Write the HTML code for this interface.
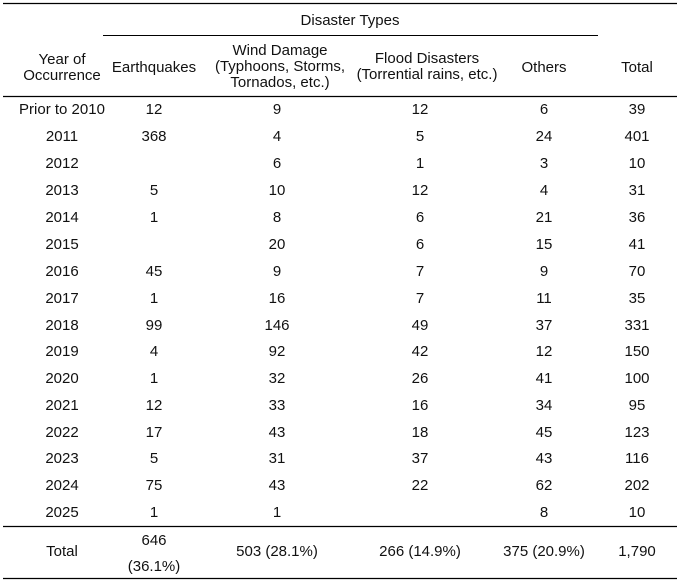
<!DOCTYPE html>
<html><head><meta charset="utf-8"><style>
html,body{margin:0;padding:0;background:#fff;}
svg text{font-family:"Liberation Sans","Noto Sans CJK JP",sans-serif;font-size:15px;fill:#111;text-anchor:middle;}
</style></head><body>
<svg width="680" height="583" xmlns="http://www.w3.org/2000/svg">
<line x1="3" y1="3.5" x2="677" y2="3.5" stroke="#000" stroke-width="1.2"/>
<line x1="103" y1="35.5" x2="598" y2="35.5" stroke="#000" stroke-width="1"/>
<line x1="3" y1="96.5" x2="677" y2="96.5" stroke="#000" stroke-width="1.2"/>
<line x1="3" y1="526.5" x2="677" y2="526.5" stroke="#000" stroke-width="1.2"/>
<line x1="3" y1="578.5" x2="677" y2="578.5" stroke="#000" stroke-width="1.2"/>
<text x="350" y="25">Disaster Types</text>
<text x="62" y="64">Year of</text><text x="62" y="80">Occurrence</text>
<text x="154" y="72">Earthquakes</text>
<text x="280" y="55">Wind Damage</text><text x="280" y="71">(Typhoons, Storms,</text><text x="280" y="87">Tornados, etc.)</text>
<text x="427" y="63">Flood Disasters</text><text x="427" y="79">(Torrential rains, etc.)</text>
<text x="544" y="72">Others</text>
<text x="637" y="72">Total</text>
<g id="rows"></g>
<text x="62" y="556">Total</text>
<text x="154" y="545">646</text><text x="154" y="571">(36.1%)</text>
<text x="277" y="556">503 (28.1%)</text>
<text x="420" y="556">266 (14.9%)</text>
<text x="544" y="556">375 (20.9%)</text>
<text x="637" y="556">1,790</text>
<text x="62" y="114">Prior to 2010</text><text x="154" y="114">12</text><text x="277" y="114">9</text><text x="420" y="114">12</text><text x="544" y="114">6</text><text x="637" y="114">39</text>
<text x="62" y="141">2011</text><text x="154" y="141">368</text><text x="277" y="141">4</text><text x="420" y="141">5</text><text x="544" y="141">24</text><text x="637" y="141">401</text>
<text x="62" y="168">2012</text><text x="277" y="168">6</text><text x="420" y="168">1</text><text x="544" y="168">3</text><text x="637" y="168">10</text>
<text x="62" y="195">2013</text><text x="154" y="195">5</text><text x="277" y="195">10</text><text x="420" y="195">12</text><text x="544" y="195">4</text><text x="637" y="195">31</text>
<text x="62" y="222">2014</text><text x="154" y="222">1</text><text x="277" y="222">8</text><text x="420" y="222">6</text><text x="544" y="222">21</text><text x="637" y="222">36</text>
<text x="62" y="249">2015</text><text x="277" y="249">20</text><text x="420" y="249">6</text><text x="544" y="249">15</text><text x="637" y="249">41</text>
<text x="62" y="276">2016</text><text x="154" y="276">45</text><text x="277" y="276">9</text><text x="420" y="276">7</text><text x="544" y="276">9</text><text x="637" y="276">70</text>
<text x="62" y="303">2017</text><text x="154" y="303">1</text><text x="277" y="303">16</text><text x="420" y="303">7</text><text x="544" y="303">11</text><text x="637" y="303">35</text>
<text x="62" y="330">2018</text><text x="154" y="330">99</text><text x="277" y="330">146</text><text x="420" y="330">49</text><text x="544" y="330">37</text><text x="637" y="330">331</text>
<text x="62" y="356">2019</text><text x="154" y="356">4</text><text x="277" y="356">92</text><text x="420" y="356">42</text><text x="544" y="356">12</text><text x="637" y="356">150</text>
<text x="62" y="383">2020</text><text x="154" y="383">1</text><text x="277" y="383">32</text><text x="420" y="383">26</text><text x="544" y="383">41</text><text x="637" y="383">100</text>
<text x="62" y="410">2021</text><text x="154" y="410">12</text><text x="277" y="410">33</text><text x="420" y="410">16</text><text x="544" y="410">34</text><text x="637" y="410">95</text>
<text x="62" y="437">2022</text><text x="154" y="437">17</text><text x="277" y="437">43</text><text x="420" y="437">18</text><text x="544" y="437">45</text><text x="637" y="437">123</text>
<text x="62" y="463">2023</text><text x="154" y="463">5</text><text x="277" y="463">31</text><text x="420" y="463">37</text><text x="544" y="463">43</text><text x="637" y="463">116</text>
<text x="62" y="490">2024</text><text x="154" y="490">75</text><text x="277" y="490">43</text><text x="420" y="490">22</text><text x="544" y="490">62</text><text x="637" y="490">202</text>
<text x="62" y="517">2025</text><text x="154" y="517">1</text><text x="277" y="517">1</text><text x="544" y="517">8</text><text x="637" y="517">10</text>
</svg>
</body></html>
